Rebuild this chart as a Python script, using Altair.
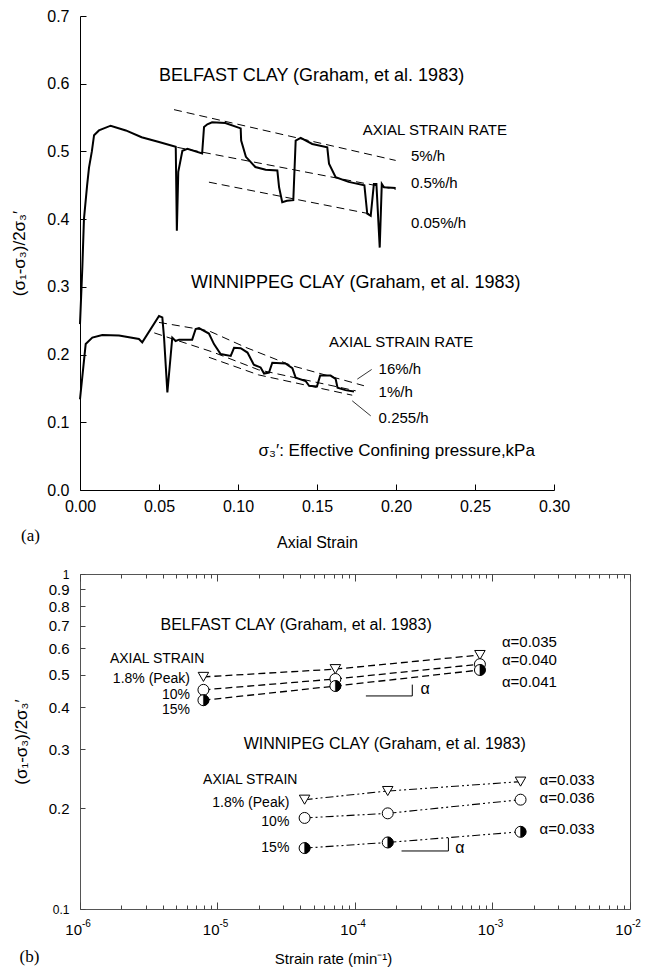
import altair as alt
import pandas as pd

FONT = "Liberation Sans"
SERIF = "Liberation Serif"

# ---------------- Panel (a): stress ratio vs axial strain ----------------
bel_strain = [0.0, 0.0015, 0.0025, 0.0045, 0.0057, 0.0075, 0.0089, 0.012, 0.0194, 0.029, 0.039,
              0.050, 0.0606, 0.0613, 0.0622, 0.0648, 0.068, 0.0773, 0.0785, 0.0806, 0.0836, 0.092,
              0.1017, 0.1020, 0.105, 0.111, 0.1175, 0.1249, 0.126, 0.128, 0.131, 0.135, 0.1365,
              0.1397, 0.147, 0.1565, 0.1576, 0.1618, 0.170, 0.180, 0.1818, 0.184, 0.186, 0.1876,
              0.1897, 0.191, 0.1924, 0.1998]
bel_ratio = [0.245, 0.33, 0.40, 0.45, 0.476, 0.50, 0.524, 0.531, 0.538, 0.531, 0.521,
             0.514, 0.507, 0.383, 0.47, 0.501, 0.504, 0.497, 0.536, 0.540, 0.543, 0.542,
             0.534, 0.516, 0.492, 0.477, 0.473, 0.472, 0.447, 0.425, 0.427, 0.428, 0.516,
             0.520, 0.511, 0.506, 0.482, 0.462, 0.455, 0.450, 0.408, 0.405, 0.452, 0.452,
             0.358, 0.452, 0.447, 0.446]

win_strain = [0.0, 0.0036, 0.0078, 0.0141, 0.0247, 0.0373, 0.0394, 0.050, 0.0521, 0.0532, 0.0553,
              0.0584, 0.0605, 0.0627, 0.071, 0.0732, 0.0753, 0.0816, 0.0848, 0.089, 0.0954, 0.0975,
              0.1017, 0.106, 0.110, 0.1143, 0.1165, 0.1196, 0.1217, 0.130, 0.1344, 0.1365, 0.1428,
              0.145, 0.150, 0.152, 0.1586, 0.1618, 0.163, 0.168, 0.1734]
win_ratio = [0.134, 0.2155, 0.225, 0.229, 0.228, 0.223, 0.218, 0.257, 0.255, 0.225, 0.144,
             0.225, 0.220, 0.222, 0.222, 0.2377, 0.239, 0.231, 0.2155, 0.2007, 0.198, 0.210,
             0.2095, 0.203, 0.185, 0.181, 0.172, 0.1735, 0.188, 0.1868, 0.180, 0.166, 0.161,
             0.154, 0.153, 0.169, 0.169, 0.164, 0.151, 0.1475, 0.1455]

# dashed strain-rate trend lines
bel5_s, bel5_v = [0.0595, 0.1998], [0.5617, 0.4867]
bel05_s, bel05_v = [0.0616, 0.1998], [0.506, 0.444]
bel005_s, bel005_v = [0.0816, 0.183], [0.4546, 0.408]
win16_s, win16_v = [0.050, 0.0816, 0.105, 0.1344, 0.1766, 0.1797], [0.2475, 0.235, 0.2105, 0.1834, 0.156, 0.154]
win1_s, win1_v = [0.047, 0.0837, 0.113, 0.1745], [0.232, 0.204, 0.1775, 0.1465]
win0255_s, win0255_v = [0.0816, 0.113, 0.1723], [0.196, 0.170, 0.140]
# leader lines
lead16_s, lead16_v = [0.1755, 0.1846], [0.1637, 0.178]
lead0255_s, lead0255_v = [0.1723, 0.184], [0.1317, 0.1095]

a_text = ["BELFAST CLAY (Graham, et al. 1983)", "AXIAL STRAIN RATE", "5%/h", "0.5%/h", "0.05%/h",
          "WINNIPPEG CLAY (Graham, et al. 1983)", "AXIAL STRAIN RATE", "16%/h", "1%/h", "0.255/h",
          "σ₃′: Effective Confining pressure,kPa"]
a_text_x = [0.050, 0.179, 0.2095, 0.2095, 0.2095, 0.0703, 0.1576, 0.189, 0.189, 0.189, 0.113]
a_text_y = [0.612, 0.531, 0.4926, 0.4527, 0.395, 0.305, 0.218, 0.1785, 0.144, 0.107, 0.058]
a_text_fs = [18, 15, 15, 15, 15, 18, 15, 15, 15, 15, 17]

a_xticks = [0.0, 0.05, 0.10, 0.15, 0.20, 0.25, 0.30]
a_yticks = [0.0, 0.1, 0.2, 0.3, 0.4, 0.5, 0.6, 0.7]

# ---------------- Panel (b): stress ratio vs strain rate ----------------
bel_rate = [7.9e-6, 7.2e-5, 8.1e-4]
bel_peak = [0.493, 0.520, 0.573]
bel_10 = [0.451, 0.486, 0.538]
bel_15 = [0.420, 0.463, 0.517]

win_rate = [4.3e-5, 1.73e-4, 1.6e-3]
win_peak = [0.212, 0.225, 0.240]
win_10 = [0.187, 0.193, 0.212]
win_15 = [0.152, 0.158, 0.170]

b_left_text = ["BELFAST CLAY (Graham, et al. 1983)", "AXIAL STRAIN",
               "WINNIPEG CLAY (Graham, et al. 1983)", "AXIAL STRAIN",
               "α=0.035", "α=0.040", "α=0.041", "α=0.033", "α=0.036", "α=0.033", "α", "α"]
b_left_x = [3.85e-6, 1.65e-6, 1.55e-5, 7.85e-6, 1.17e-3, 1.17e-3, 1.17e-3, 2.2e-3, 2.2e-3, 2.2e-3, 3.0e-4, 5.37e-4]
b_left_y = [0.704, 0.557, 0.311, 0.243, 0.627, 0.553, 0.476, 0.243, 0.214, 0.173, 0.455, 0.152]
b_left_fs = [16, 14, 16, 14, 15, 15, 15, 15, 15, 15, 16, 16]

b_right_text = ["1.8% (Peak)", "10%", "15%", "1.8% (Peak)", "10%", "15%"]
b_right_x = [6.3e-6, 6.3e-6, 6.3e-6, 3.33e-5, 3.33e-5, 3.33e-5]
b_right_y = [0.486, 0.435, 0.393, 0.207, 0.182, 0.152]

bel_slope_x, bel_slope_y = [1.2e-4, 2.61e-4, 2.61e-4], [0.4325, 0.4325, 0.4675]
win_slope_x, win_slope_y = [2.18e-4, 4.78e-4, 4.78e-4], [0.149, 0.149, 0.163]

b_xmajor = [1e-6, 1e-5, 1e-4, 1e-3, 1e-2]
b_xexp = ["-6", "-5", "-4", "-3", "-2"]
b_xminor = [m * d for d in [1e-6, 1e-5, 1e-4, 1e-3] for m in range(2, 10)]
b_yticks = [0.1, 0.2, 0.3, 0.4, 0.5, 0.6, 0.7, 0.8, 0.9, 1.0]

# ---------------- geometry ----------------
WA, HA = 474, 474
WB, HB = 550, 335


def lines_df(groups):
    rows = []
    for name, xs, ys in groups:
        for i, (x, y) in enumerate(zip(xs, ys)):
            rows.append({"x": x, "y": y, "g": name, "i": i})
    return pd.DataFrame(rows)


# ===== Panel (a) =====
xa = alt.Scale(domain=[0, 0.30], nice=False, zero=False)
ya = alt.Scale(domain=[0, 0.7], nice=False, zero=False)

curves = lines_df([("bel", bel_strain, bel_ratio), ("win", win_strain, win_ratio)])
trends = lines_df([("b5", bel5_s, bel5_v), ("b05", bel05_s, bel05_v), ("b005", bel005_s, bel005_v),
                   ("w16", win16_s, win16_v), ("w1", win1_s, win1_v), ("w0255", win0255_s, win0255_v)])
leaders = lines_df([("l16", lead16_s, lead16_v), ("l0255", lead0255_s, lead0255_v)])
a_txt = pd.DataFrame({"x": a_text_x, "y": a_text_y, "t": a_text, "fs": a_text_fs})

axis_xa = alt.Axis(orient="bottom", values=a_xticks, format=".2f", ticks=False, domain=True,
                   domainColor="black", domainWidth=1, labelFontSize=16, labelPadding=8,
                   labelFlush=False, title="Axial Strain", titleFontSize=16, titlePadding=20,
                   grid=False)
axis_ya = alt.Axis(orient="left", values=a_yticks, format=".1f", ticks=False, domain=True,
                   domainColor="black", domainWidth=1, labelFontSize=16, labelPadding=11,
                   labelFlush=False, title="(σ₁-σ₃)/2σ₃′", titleFontSize=17, titlePadding=18,
                   grid=False)

a_curves = alt.Chart(curves).mark_line(color="black", strokeWidth=2).encode(
    x=alt.X("x:Q", scale=xa, axis=axis_xa),
    y=alt.Y("y:Q", scale=ya, axis=axis_ya),
    detail="g:N", order="i:Q")
a_trends = alt.Chart(trends).mark_line(color="black", strokeWidth=1, strokeDash=[8, 5]).encode(
    x=alt.X("x:Q", scale=xa, axis=None), y=alt.Y("y:Q", scale=ya, axis=None),
    detail="g:N", order="i:Q")
a_leaders = alt.Chart(leaders).mark_line(color="black", strokeWidth=0.8).encode(
    x=alt.X("x:Q", scale=xa, axis=None), y=alt.Y("y:Q", scale=ya, axis=None),
    detail="g:N", order="i:Q")
a_texts = alt.Chart(a_txt).mark_text(align="left", baseline="middle", font=FONT, color="black").encode(
    x=alt.X("x:Q", scale=xa, axis=None), y=alt.Y("y:Q", scale=ya, axis=None),
    text="t:N", size=alt.Size("fs:Q", scale=None))
a_tag = alt.Chart(pd.DataFrame({"x": [-0.0373], "y": [-0.068], "t": ["(a)"]})).mark_text(
    align="left", baseline="middle", font=SERIF, fontSize=17, color="black").encode(
    x=alt.X("x:Q", scale=xa, axis=None), y=alt.Y("y:Q", scale=ya, axis=None), text="t:N")

dummy_a = pd.DataFrame({"x": [0.1], "y": [0.1]})
a_tick_x = alt.Chart(dummy_a).mark_point(opacity=0).encode(
    x=alt.X("x:Q", scale=xa, axis=alt.Axis(orient="top", offset=-HA, values=a_xticks, labels=False,
                                             domain=False, ticks=True, tickSize=6, tickColor="black",
                                             title=None, grid=False)),
    y=alt.Y("y:Q", scale=ya, axis=None))
a_tick_y = alt.Chart(dummy_a).mark_point(opacity=0).encode(
    x=alt.X("x:Q", scale=xa, axis=None),
    y=alt.Y("y:Q", scale=ya, axis=alt.Axis(orient="right", offset=-WA, values=a_yticks, labels=False,
                                             domain=False, ticks=True, tickSize=6, tickColor="black",
                                             title=None, grid=False)))

panel_a = alt.layer(a_curves, a_trends, a_leaders, a_texts, a_tag, a_tick_x, a_tick_y).properties(
    width=WA, height=HA, view=alt.ViewBackground(stroke="transparent"))

# ===== Panel (b) =====
xb = alt.Scale(type="log", domain=[1e-6, 1e-2], nice=False)
yb = alt.Scale(type="log", domain=[0.1, 1.0], nice=False)

pts_rows = []
for clay, rate, series in [("bel", bel_rate, [("p", bel_peak), ("s10", bel_10), ("s15", bel_15)]),
                           ("win", win_rate, [("p", win_peak), ("s10", win_10), ("s15", win_15)])]:
    for name, vals in series:
        for i, (r, v) in enumerate(zip(rate, vals)):
            pts_rows.append({"x": r, "y": v, "clay": clay, "s": name, "g": clay + name, "i": i})
pts = pd.DataFrame(pts_rows)
slopes = lines_df([("bs", bel_slope_x, bel_slope_y), ("ws", win_slope_x, win_slope_y)])
b_ltxt = pd.DataFrame({"x": b_left_x, "y": b_left_y, "t": b_left_text, "fs": b_left_fs})
b_rtxt = pd.DataFrame({"x": b_right_x, "y": b_right_y, "t": b_right_text})
b_xlab = pd.DataFrame({"x": b_xmajor, "y": [0.1] * len(b_xmajor), "base": ["10"] * len(b_xmajor),
                       "e": b_xexp})

axis_xb = alt.Axis(orient="bottom", values=b_xmajor, labels=False, ticks=False, domain=False,
                   title="Strain rate (min⁻¹)", titleFontSize=15, titlePadding=42,
                   titleX=WB * 0.46, grid=False)
axis_yb = alt.Axis(orient="left", values=b_yticks,
                   labelExpr="datum.value > 0.95 ? '1' : format(datum.value, '.1f')",
                   ticks=False, domain=False, labelFlush=False,
                   labelFontSize={"condition": {"test": "datum.value < 0.15 || datum.value > 0.95", "value": 12},
                                  "value": 15},
                   labelPadding=11, title="(σ₁-σ₃)/2σ₃′", titleFontSize=17, titlePadding=18, grid=False)

bel_pts = pts[pts.clay == "bel"]
win_pts = pts[pts.clay == "win"]

b_bel_lines = alt.Chart(bel_pts).mark_line(color="black", strokeWidth=1.3, strokeDash=[7, 4]).encode(
    x=alt.X("x:Q", scale=xb, axis=axis_xb), y=alt.Y("y:Q", scale=yb, axis=axis_yb),
    detail="g:N", order="i:Q")
b_win_lines = alt.Chart(win_pts).mark_line(color="black", strokeWidth=1.1,
                                           strokeDash=[8, 3, 2, 3, 2, 3]).encode(
    x=alt.X("x:Q", scale=xb, axis=None), y=alt.Y("y:Q", scale=yb, axis=None),
    detail="g:N", order="i:Q")
b_tri = alt.Chart(pts[pts.s == "p"]).mark_point(shape="triangle-down", size=110, filled=True,
                                                 fill="white", stroke="black", strokeWidth=1,
                                                 opacity=1).encode(
    x=alt.X("x:Q", scale=xb, axis=None), y=alt.Y("y:Q", scale=yb, axis=None))
b_circ = alt.Chart(pts[pts.s != "p"]).mark_point(shape="circle", size=120, filled=True,
                                                  fill="white", stroke="black", strokeWidth=1,
                                                  opacity=1).encode(
    x=alt.X("x:Q", scale=xb, axis=None), y=alt.Y("y:Q", scale=yb, axis=None))
b_half = alt.Chart(pts[pts.s == "s15"]).mark_point(shape="M0,-1A1,1,0,0,1,0,1Z", size=120, filled=True,
                                                    fill="black", stroke="black", strokeWidth=0.5,
                                                    opacity=1).encode(
    x=alt.X("x:Q", scale=xb, axis=None), y=alt.Y("y:Q", scale=yb, axis=None))
b_slopes = alt.Chart(slopes).mark_line(color="black", strokeWidth=1).encode(
    x=alt.X("x:Q", scale=xb, axis=None), y=alt.Y("y:Q", scale=yb, axis=None),
    detail="g:N", order="i:Q")
b_ltexts = alt.Chart(b_ltxt).mark_text(align="left", baseline="middle", font=FONT, color="black").encode(
    x=alt.X("x:Q", scale=xb, axis=None), y=alt.Y("y:Q", scale=yb, axis=None),
    text="t:N", size=alt.Size("fs:Q", scale=None))
b_rtexts = alt.Chart(b_rtxt).mark_text(align="right", baseline="middle", font=FONT, fontSize=14,
                                       color="black").encode(
    x=alt.X("x:Q", scale=xb, axis=None), y=alt.Y("y:Q", scale=yb, axis=None), text="t:N")
b_tag = alt.Chart(pd.DataFrame({"x": [3.63e-7], "y": [0.0719], "t": ["(b)"]})).mark_text(
    align="left", baseline="middle", font=SERIF, fontSize=17, color="black").encode(
    x=alt.X("x:Q", scale=xb, axis=None), y=alt.Y("y:Q", scale=yb, axis=None), text="t:N")
# tick labels 10^n drawn as base + superscript
b_lab_base = alt.Chart(b_xlab).mark_text(align="right", baseline="middle", font=FONT, fontSize=15,
                                         color="black", dx=2, dy=21).encode(
    x=alt.X("x:Q", scale=xb, axis=None), y=alt.Y("y:Q", scale=yb, axis=None), text="base:N")
b_lab_exp = alt.Chart(b_xlab).mark_text(align="left", baseline="middle", font=FONT, fontSize=10,
                                        color="black", dx=2, dy=15).encode(
    x=alt.X("x:Q", scale=xb, axis=None), y=alt.Y("y:Q", scale=yb, axis=None), text="e:N")

dummy_b = pd.DataFrame({"x": [1e-4], "y": [0.3]})


def xtick_layer(orient, values, size):
    return alt.Chart(dummy_b).mark_point(opacity=0).encode(
        x=alt.X("x:Q", scale=xb, axis=alt.Axis(orient=orient, offset=-HB, values=values, labels=False,
                                                 domain=False, ticks=True, tickSize=size,
                                                 tickColor="#444", title=None, grid=False)),
        y=alt.Y("y:Q", scale=yb, axis=None))


b_tick_layers = [xtick_layer("top", b_xmajor, 7), xtick_layer("top", b_xminor, 4),
                 xtick_layer("bottom", b_xmajor, 7), xtick_layer("bottom", b_xminor, 4)]
b_tick_y = alt.Chart(dummy_b).mark_point(opacity=0).encode(
    x=alt.X("x:Q", scale=xb, axis=None),
    y=alt.Y("y:Q", scale=yb, axis=alt.Axis(orient="right", offset=-WB, values=b_yticks, labels=False,
                                             domain=False, ticks=True, tickSize=5, tickColor="#444",
                                             title=None, grid=False)))

panel_b = alt.layer(b_bel_lines, b_win_lines, b_slopes, b_tri, b_circ, b_half, b_ltexts, b_rtexts,
                    b_tag, b_lab_base, b_lab_exp, *b_tick_layers, b_tick_y).properties(
    width=WB, height=HB, view=alt.ViewBackground(stroke="#555", strokeWidth=1))

chart = alt.vconcat(panel_a, panel_b, spacing=16).properties(
    padding={"left": 10, "top": 7, "right": 0, "bottom": 4}, background="white"
).configure(font=FONT).configure_axis(
    labelFont=FONT, titleFont=FONT, labelColor="black", titleColor="black", titleFontWeight="normal"
).configure_view(stroke="transparent")

chart.save("out.html", embed_options={"renderer": "svg", "actions": False})
